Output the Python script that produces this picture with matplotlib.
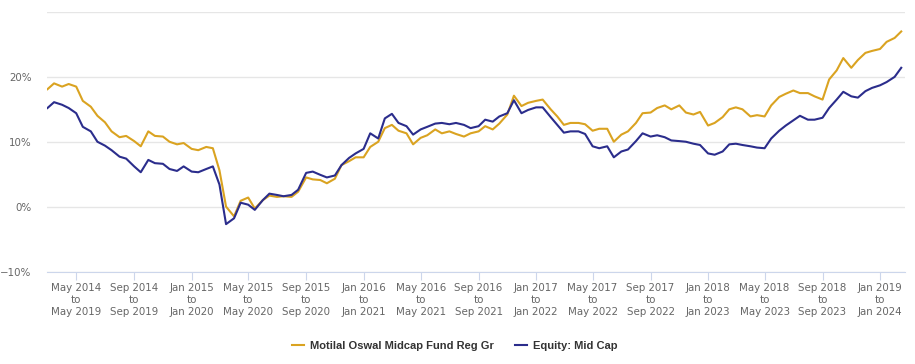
import matplotlib
matplotlib.use("Agg")
import matplotlib.pyplot as plt
import pandas as pd

# start dates of the rolling 5-year windows (semi-monthly)
dates = pd.date_range("2014-03-01", periods=120, freq="SMS")

fund = [18.1, 19.0, 18.5, 18.9, 18.5, 16.3, 15.4, 14.0, 13.0, 11.6,
        10.7, 10.9, 10.1, 9.3, 11.6, 10.9, 10.8, 10.0, 9.6, 9.8,
        8.9, 8.7, 9.2, 9.0, 5.6, 0.0, -1.5, 0.9, 1.4, -0.3,
        1.0, 1.7, 1.5, 1.6, 1.5, 2.3, 4.5, 4.2, 4.1, 3.6,
        4.3, 6.4, 7.0, 7.6, 7.6, 9.2, 10.0, 12.1, 12.6, 11.7,
        11.3, 9.6, 10.6, 11.0, 11.9, 11.3, 11.6, 11.2, 10.8, 11.3,
        11.6, 12.4, 11.9, 12.8, 14.2, 17.1, 15.5, 16.0, 16.3, 16.5,
        15.0, 13.9, 12.6, 12.9, 12.9, 12.7, 11.7, 12.0, 12.0, 10.0,
        11.1, 11.6, 12.9, 14.4, 14.5, 15.2, 15.6, 15.0, 15.6, 14.5,
        14.2, 14.6, 12.5, 12.9, 13.8, 15.0, 15.3, 15.0, 13.9, 14.1,
        13.9, 15.6, 16.9, 17.4, 17.9, 17.5, 17.5, 17.0, 16.5, 19.6,
        21.0, 22.9, 21.4, 22.6, 23.7, 24.0, 24.3, 25.4, 26.0, 27.0]

midcap = [15.2, 16.1, 15.7, 15.2, 14.4, 12.3, 11.6, 10.0, 9.4, 8.7,
          7.7, 7.4, 6.2, 5.3, 7.2, 6.7, 6.6, 5.8, 5.5, 6.2,
          5.4, 5.3, 5.8, 6.2, 3.4, -2.7, -1.8, 0.6, 0.3, -0.5,
          1.0, 2.0, 1.8, 1.6, 1.8, 2.6, 5.2, 5.4, 4.9, 4.5,
          4.8, 6.4, 7.5, 8.2, 8.9, 11.3, 10.5, 13.6, 14.3, 12.9,
          12.4, 11.1, 11.9, 12.3, 12.8, 12.9, 12.7, 12.9, 12.6, 12.1,
          12.4, 13.4, 13.1, 13.9, 14.4, 16.4, 14.4, 14.9, 15.3, 15.3,
          13.8, 12.6, 11.4, 11.6, 11.6, 11.2, 9.3, 9.0, 9.3, 7.6,
          8.5, 8.8, 10.1, 11.3, 10.8, 11.0, 10.7, 10.2, 10.1, 10.0,
          9.7, 9.5, 8.2, 8.0, 8.5, 9.6, 9.7, 9.5, 9.3, 9.1,
          9.0, 10.5, 11.7, 12.5, 13.3, 14.0, 13.4, 13.4, 13.7, 15.2,
          16.5, 17.7, 17.0, 16.8, 17.8, 18.3, 18.7, 19.2, 20.0, 21.4]

tick_dates = pd.date_range("2014-05-01", "2019-01-01", freq="4MS")
tick_labels = [f"{d.strftime('%b %Y')}\nto\n{(d + pd.DateOffset(years=5)).strftime('%b %Y')}"
               for d in tick_dates]

fig = plt.figure(figsize=(9.15, 3.64), dpi=100)
ax = fig.add_axes([47 / 915, 1 - 271.5 / 364, 858 / 915, 259.5 / 364])

ax.plot(dates, fund, color="#daa321", lw=1.5, label="Motilal Oswal Midcap Fund Reg Gr")
ax.plot(dates, midcap, color="#2b2d8c", lw=1.5, label="Equity: Mid Cap")

ax.set_xlim(pd.Timestamp("2014-02-28"), pd.Timestamp("2019-02-23"))
ax.set_ylim(-10, 30)
ax.set_yticks([-10, 0, 10, 20, 30])
ax.set_yticklabels(["−10%", "0%", "10%", "20%", ""])
ax.grid(axis="y", color="#e6e6e6", lw=1)
ax.set_axisbelow(True)

ax.set_xticks(tick_dates)
ax.set_xticklabels(tick_labels, fontsize=7.4, color="#666666", linespacing=1.3)
ax.tick_params(axis="x", length=6, color="#ccd6eb", pad=2)
ax.tick_params(axis="y", length=0, labelsize=7.4, labelcolor="#666666", pad=11)

for s in ["top", "right", "left"]:
    ax.spines[s].set_visible(False)
ax.spines["bottom"].set_color("#ccd6eb")

fig.legend(loc="center", bbox_to_anchor=(0.497, 1 - 346 / 364), ncol=2, frameon=False,
           handlelength=1.1, handletextpad=0.5, columnspacing=1.9,
           prop={"family": "Liberation Sans", "size": 8, "weight": "bold"},
           labelcolor="#333333")

fig.savefig("out.png", dpi=100)
